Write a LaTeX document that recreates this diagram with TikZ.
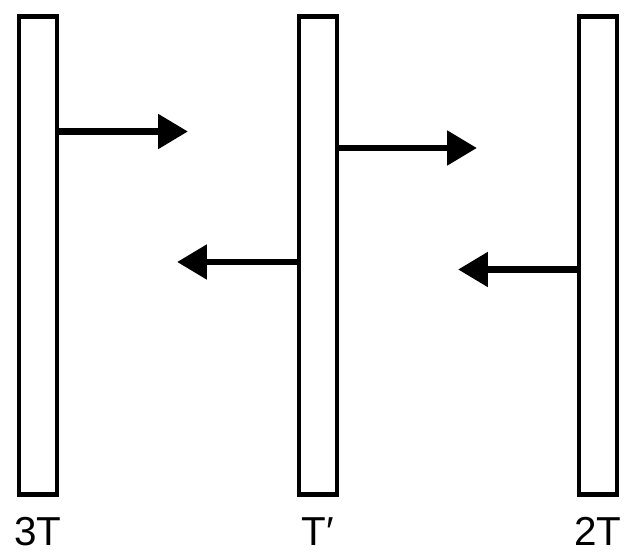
\documentclass[tikz,border=0pt]{standalone}
\usepackage{fontspec}
\setmainfont{Liberation Sans}
\usetikzlibrary{arrows.meta}
\begin{document}
\begin{tikzpicture}[x=0.02cm, y=-0.02cm, >={Triangle[length=17pt,width=19pt]}]
\useasboundingbox (0,0) rectangle (635,560);
\tikzset{plate/.style={draw, rectangle, line width=2.8pt, minimum width=0.76cm, minimum height=9.58cm, inner sep=0pt}}
\node (L)[plate] at (38,255.5) {};
\node (M)[plate] at (318,255.5) {};
\node (R)[plate] at (598,255.5) {};

\coordinate (a) at (188,131.5);\coordinate (b) at (477,148);
\coordinate (c) at (177,262);\coordinate (d) at (458,269.5);
\draw[line width=3.9pt, ->](L.east |- a)--(a);\draw[line width=3.9pt, ->](M.east |- b)--(b);
\draw[line width=3.9pt, ->](M.west |- c)--(c);\draw[line width=3.9pt, ->](R.west |- d)--(d);

\foreach \x/\xtext in {38/3T,318/T′,598/2T}
{
	\node (t\x)[anchor=base, font=\fontsize{23}{23}\selectfont] at (\x,545){\xtext};
}
\end{tikzpicture}
\end{document}
